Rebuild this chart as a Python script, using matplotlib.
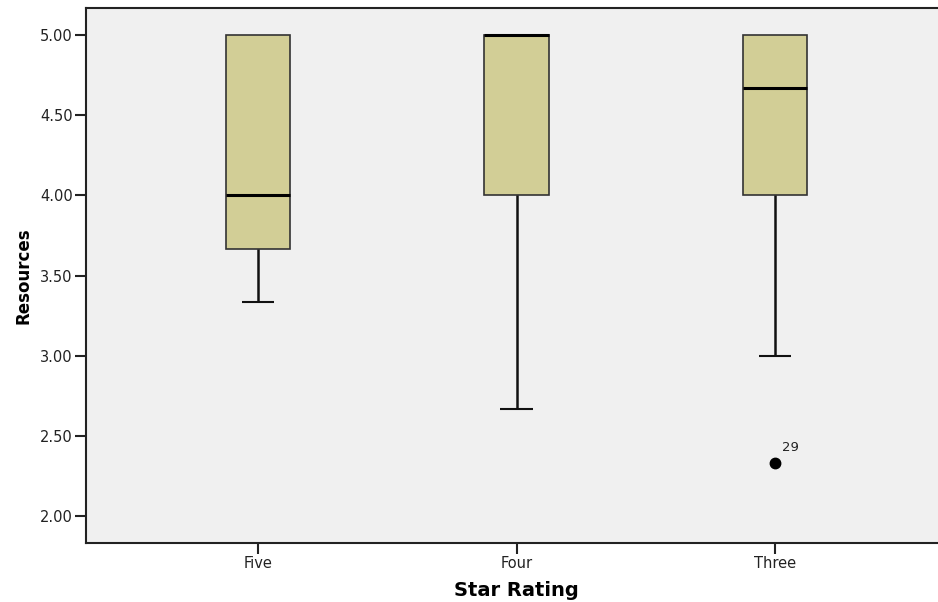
import matplotlib
matplotlib.use("Agg")
import matplotlib.pyplot as plt

plt.rcParams['font.family'] = ['DejaVu Sans']

# Box-plot summary per star rating
categories = ["Five", "Four", "Three"]
q1 = [3.6667, 4.00, 4.00]
median = [4.00, 5.00, 4.6667]
q3 = [5.00, 5.00, 5.00]
whisker_low = [3.3333, 2.6667, 3.00]
whisker_high = [5.00, 5.00, 5.00]
outliers = [[], [], [2.3333]]
outlier_ids = [[], [], ["29"]]

stats = []
for i, name in enumerate(categories):
    stats.append(dict(label=name, q1=q1[i], med=median[i], q3=q3[i],
                      whislo=whisker_low[i], whishi=whisker_high[i],
                      fliers=outliers[i]))

W, H = 938, 602
fig = plt.figure(figsize=(W / 100, H / 100), dpi=100)
left, right, top, bottom = 86, 947, 8, 543
ax = fig.add_axes([left / W, 1 - bottom / H, (right - left) / W, (bottom - top) / H])
ax.set_facecolor("#F0F0F0")

positions = list(range(len(categories)))
parts = ax.bxp(stats, positions=positions, widths=0.25, patch_artist=True,
               showfliers=True,
               boxprops=dict(facecolor="#D2CE96", edgecolor="#333333", linewidth=1.2),
               medianprops=dict(color="black", linewidth=2.2, solid_capstyle="butt"),
               whiskerprops=dict(color="#111111", linewidth=1.8, solid_capstyle="butt"),
               capprops=dict(color="#111111", linewidth=1.5, solid_capstyle="butt"),
               capwidths=0.125,
               flierprops=dict(marker="o", markerfacecolor="black",
                               markeredgecolor="black", markersize=7.5))

# Hide caps that sit on the box edge (whisker of zero length)
for i in range(len(categories)):
    low_cap, high_cap = parts["caps"][2 * i], parts["caps"][2 * i + 1]
    if whisker_high[i] <= q3[i]:
        high_cap.set_visible(False)
    if whisker_low[i] >= q1[i]:
        low_cap.set_visible(False)

for i, vals in enumerate(outliers):
    for v, tag in zip(vals, outlier_ids[i]):
        ax.annotate(tag, (positions[i], v), xytext=(5, 6), textcoords="offset points",
                    fontsize=9.5, color="#222222", va="bottom", ha="left")

ax.set_xlim(-0.665, 2.665)
ax.set_ylim(1.832, 5.168)
ax.set_yticks([2.0, 2.5, 3.0, 3.5, 4.0, 4.5, 5.0])
ax.set_yticklabels([f"{t:.2f}" for t in ax.get_yticks()])
ax.set_xticks(positions)
ax.set_xticklabels(categories)

ax.tick_params(axis="both", labelsize=10.5, colors="#222222", length=8, width=1.5, pad=1.5)
for side in ("left", "bottom", "top"):
    ax.spines[side].set_color("#222222")
    ax.spines[side].set_linewidth(1.5)
ax.spines["right"].set_visible(False)

ax.set_ylabel("Resources", fontsize=12, fontweight="bold", labelpad=5)
ax.set_xlabel("Star Rating", fontsize=14, fontweight="bold", labelpad=7)

fig.savefig("out.png", dpi=100, facecolor="white")
